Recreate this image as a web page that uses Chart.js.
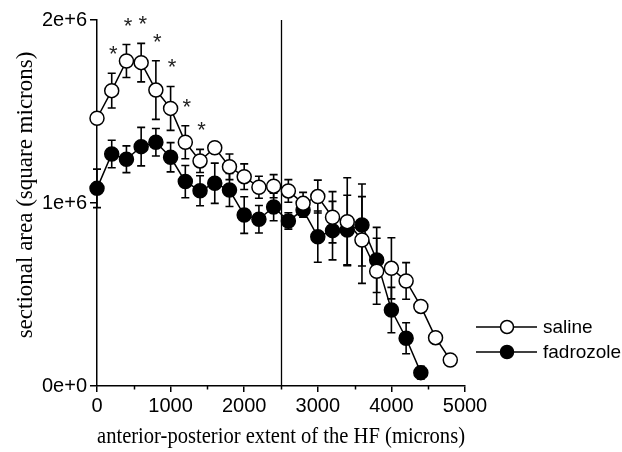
<!DOCTYPE html>
<html>
<head>
<meta charset="utf-8">
<script src="https://cdn.jsdelivr.net/npm/chart.js@4"></script>
<style>
  html, body { margin: 0; padding: 0; background: #fff; }
  #wrap { width: 622px; height: 452px; }
</style>
</head>
<body>
<div id="wrap"><canvas id="c" width="622" height="452"></canvas></div>
<script>
// ---- data ----
const salineX = [0,200,400,600,800,1000,1200,1400,1600,1800,2000,2200,2400,2600,2800,3000,3200,3400,3600,3800,4000,4200,4400,4600,4800];
const salineY = [1.463e6,1.614e6,1.776e6,1.767e6,1.617e6,1.517e6,1.332e6,1.230e6,1.302e6,1.198e6,1.144e6,1.086e6,1.092e6,1.066e6,0.998e6,1.035e6,0.922e6,0.898e6,0.798e6,0.627e6,0.643e6,0.574e6,0.435e6,0.264e6,0.142e6];
const salineSE = [0,0.095e6,0.09e6,0.105e6,0.16e6,0.12e6,0.09e6,0.063e6,0.025e6,0.07e6,0.07e6,0.06e6,0.063e6,0.062e6,0.06e6,0.09e6,0.14e6,0.24e6,0.237e6,0.18e6,0.167e6,0.10e6,0,0,0];

const fadX = [0,200,400,600,800,1000,1200,1400,1600,1800,2000,2200,2400,2600,2800,3000,3200,3400,3600,3800,4000,4200,4400];
const fadY = [1.08e6,1.268e6,1.239e6,1.308e6,1.332e6,1.25e6,1.117e6,1.067e6,1.108e6,1.071e6,0.934e6,0.911e6,0.978e6,0.902e6,0.962e6,0.816e6,0.849e6,0.852e6,0.880e6,0.689e6,0.415e6,0.261e6,0.073e6];
const fadSE = [0.105e6,0.075e6,0.073e6,0.105e6,0.075e6,0.08e6,0.088e6,0.082e6,0.11e6,0.09e6,0.1e6,0.075e6,0.075e6,0.045e6,0.04e6,0.14e6,0.16e6,0.19e6,0.224e6,0.178e6,0.124e6,0.085e6,0.035e6];

const seriesNames = ['saline', 'fadrozole'];
const significantX = [200,400,600,800,1000,1200,1400];   // marked with *
const dividerX = 2500;                                    // vertical reference line
const yTickValues = [0, 1e6, 2e6];
const yTickLabels = ['0e+0', '1e+6', '2e+6'];
const xMinorTicks = [500,1500,2500,3500,4500];
const xTitle = 'anterior-posterior extent of the HF (microns)';
const yTitle = 'sectional area (square microns)';

// ---- helpers ----
const SANS = "'Liberation Sans', Arial, sans-serif";
const SERIF = "'Liberation Serif', 'Times New Roman', serif";
const toPts = (xs, ys) => xs.map((x, i) => ({x: x, y: ys[i]}));
const errs = [salineSE, fadSE];

const errorBarPlugin = {
  id: 'errorBars',
  beforeDatasetsDraw(chart) {
    const ctx = chart.ctx;
    const ys = chart.scales.y, xs = chart.scales.x;
    ctx.save();
    ctx.strokeStyle = '#000';
    ctx.lineWidth = 1.6;
    chart.data.datasets.forEach((ds, di) => {
      ds.data.forEach((p, i) => {
        const se = errs[di][i];
        if (!se) return;
        const px = xs.getPixelForValue(p.x);
        const top = ys.getPixelForValue(p.y + se);
        const bot = ys.getPixelForValue(p.y - se);
        ctx.beginPath();
        ctx.moveTo(px, top); ctx.lineTo(px, bot);
        ctx.moveTo(px - 4, top); ctx.lineTo(px + 4, top);
        ctx.moveTo(px - 4, bot); ctx.lineTo(px + 4, bot);
        ctx.stroke();
      });
    });
    // vertical reference line
    const vx = Math.round(xs.getPixelForValue(dividerX)) + 0.5;
    ctx.lineWidth = 1.3;
    ctx.beginPath();
    ctx.moveTo(vx, chart.chartArea.top);
    ctx.lineTo(vx, chart.chartArea.bottom);
    ctx.stroke();
    ctx.restore();
  },
  afterDatasetsDraw(chart) {
    const ctx = chart.ctx;
    const ys = chart.scales.y, xs = chart.scales.x;
    ctx.save();
    // asterisks
    ctx.fillStyle = '#222';
    ctx.font = '22px ' + SANS;
    ctx.textAlign = 'center';
    ctx.textBaseline = 'alphabetic';
    significantX.forEach(sx => {
      const i = salineX.indexOf(sx);
      const px = xs.getPixelForValue(sx) + 1.5;
      const top = ys.getPixelForValue(salineY[i] + salineSE[i]);
      ctx.fillText('*', px, top - 12);
    });
    // minor ticks on x axis
    ctx.strokeStyle = '#000';
    ctx.lineWidth = 1.5;
    const b = chart.chartArea.bottom;
    xMinorTicks.forEach(v => {
      const px = Math.round(xs.getPixelForValue(v)) + 0.5;
      ctx.beginPath();
      ctx.moveTo(px, b);
      ctx.lineTo(px, b + 3.5);
      ctx.stroke();
    });
    // y axis title
    ctx.save();
    ctx.translate(26, 195);
    ctx.rotate(-Math.PI / 2);
    ctx.font = '23px ' + SERIF;
    ctx.fillStyle = '#000';
    ctx.textAlign = 'center';
    ctx.textBaseline = 'middle';
    ctx.fillText(yTitle, 0, 0);
    ctx.restore();
    // legend
    const items = [{y: 327, fill: '#fff'}, {y: 352, fill: '#000'}];
    ctx.font = '19px ' + SANS;
    ctx.textAlign = 'left';
    ctx.textBaseline = 'middle';
    items.forEach((it, k) => {
      ctx.strokeStyle = '#000';
      ctx.lineWidth = 1.5;
      ctx.beginPath();
      ctx.moveTo(476, it.y); ctx.lineTo(537, it.y);
      ctx.stroke();
      ctx.beginPath();
      ctx.arc(507, it.y, 6.5, 0, Math.PI * 2);
      ctx.fillStyle = it.fill;
      ctx.fill();
      ctx.stroke();
      ctx.fillStyle = '#000';
      ctx.fillText(seriesNames[k], 543, it.y + 1);
    });
    ctx.restore();
  }
};

new Chart(document.getElementById('c'), {
  type: 'line',
  data: {
    datasets: [
      {
        label: seriesNames[0],
        data: toPts(salineX, salineY),
        borderColor: '#000', borderWidth: 1.5,
        pointRadius: 7, pointBorderWidth: 1.5,
        pointBackgroundColor: '#fff', pointBorderColor: '#000',
        tension: 0, clip: false, fill: false
      },
      {
        label: seriesNames[1],
        data: toPts(fadX, fadY),
        borderColor: '#000', borderWidth: 1.5,
        pointRadius: 7, pointBorderWidth: 1.5,
        pointBackgroundColor: '#000', pointBorderColor: '#000',
        tension: 0, clip: false, fill: false
      }
    ]
  },
  options: {
    responsive: false,
    devicePixelRatio: 1,
    animation: false,
    layout: { padding: { top: 20, right: 157, bottom: 0, left: 0 } },
    plugins: { legend: { display: false }, tooltip: { enabled: false } },
    scales: {
      x: {
        type: 'linear', min: 0, max: 5000,
        ticks: {
          stepSize: 1000, color: '#000', padding: 2,
          font: { family: SANS, size: 20 },
          callback: v => String(v), maxRotation: 0
        },
        grid: { drawOnChartArea: false, drawTicks: true, tickLength: 6, color: '#000', lineWidth: 1.5 },
        border: { display: true, color: '#000', width: 1.5 },
        title: { display: true, text: xTitle, color: '#000', font: { family: SERIF, size: 23 }, padding: { top: 0, bottom: 1 } },
        afterFit: s => { s.height = 66; }
      },
      y: {
        type: 'linear', min: 0, max: 2e6,
        afterBuildTicks: s => { s.ticks = yTickValues.map(v => ({ value: v })); },
        ticks: {
          color: '#000', padding: 3,
          font: { family: SANS, size: 20 },
          callback: (v, i) => yTickLabels[yTickValues.indexOf(v)]
        },
        grid: { drawOnChartArea: false, drawTicks: true, tickLength: 7, color: '#000', lineWidth: 1.5 },
        border: { display: true, color: '#000', width: 1.5 },
        title: { display: false },
        afterFit: s => { s.width = 97; }
      }
    }
  },
  plugins: [errorBarPlugin]
});
</script>
</body>
</html>
